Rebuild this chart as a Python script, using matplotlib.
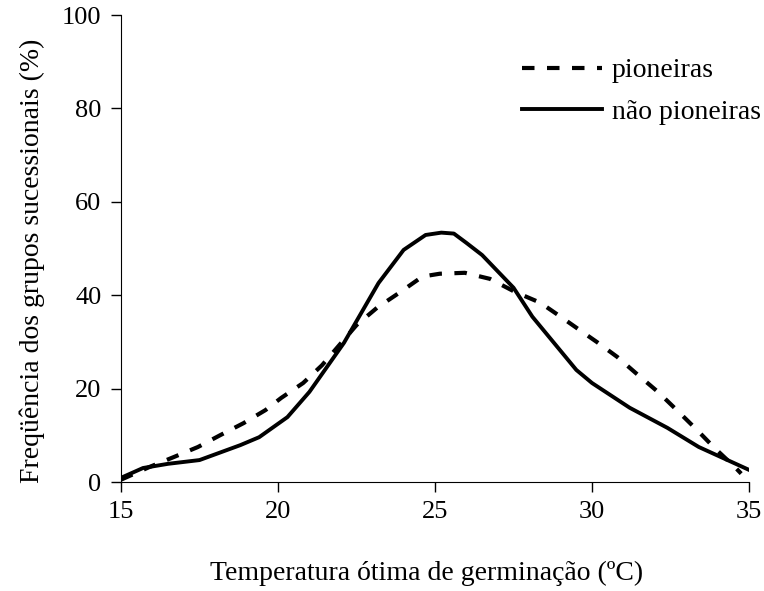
import matplotlib
matplotlib.use("Agg")
import matplotlib.pyplot as plt

plt.rcParams['font.family'] = ['Liberation Serif', 'DejaVu Serif']

# curvas
temp_pion = [15.0, 15.9, 16.7, 17.45, 18.15, 18.9, 19.6, 20.1, 20.8, 21.4, 22.5, 23.15,
             23.9, 24.6, 25.15, 25.95, 26.75, 27.55, 28.35, 29.0, 29.7, 30.15, 30.8,
             31.4, 32.1, 32.7, 33.35, 33.9, 34.55, 34.75]
freq_pion = [0.5, 3.2, 5.4, 7.5, 10.0, 12.6, 15.4, 18.0, 21.2, 25.0, 33.6, 37.3,
             40.7, 44.0, 44.6, 44.8, 43.5, 40.7, 38.4, 35.4, 32.1, 30.0, 26.8,
             23.3, 19.3, 15.4, 11.1, 7.3, 3.2, 1.8]

temp_nao = [15.0, 15.7, 16.5, 17.5, 18.8, 19.4, 20.3, 21.0, 22.1, 23.2, 24.0, 24.7,
            25.2, 25.6, 26.0, 26.5, 27.5, 28.1, 29.5, 30.0, 31.2, 32.4, 33.4, 35.0]
freq_nao = [0.9, 3.0, 3.9, 4.7, 7.9, 9.6, 13.9, 19.3, 29.8, 42.6, 49.7, 52.9,
            53.4, 53.2, 51.2, 48.6, 41.6, 35.4, 24.0, 21.2, 15.9, 11.6, 7.5, 2.6]

xticks = [15, 20, 25, 30, 35]
yticks = [0, 20, 40, 60, 80, 100]

fig = plt.figure(figsize=(7.64, 5.91), dpi=100)
ax = fig.add_axes([0.1584, 0.1844, 0.8220, 0.7902])

ax.plot(temp_pion, freq_pion, color='black', lw=3, linestyle=(0, (3, 3)),
        label='pioneiras')
ax.plot(temp_nao, freq_nao, color='black', lw=2.8, label='não pioneiras')

ax.set_xlim(15, 35)
ax.set_ylim(0, 100)
ax.set_xticks(xticks)
ax.set_yticks(yticks)
ax.spines['top'].set_visible(False)
ax.spines['right'].set_visible(False)
ax.tick_params(direction='out', length=7, width=1, labelsize=19, pad=7)

ax.set_xlabel('Temperatura ótima de germinação (ºC)', fontsize=20, labelpad=27)
ax.set_ylabel('Freqüência dos grupos sucessionais (%)', fontsize=20, labelpad=12)
ax.xaxis.label.set_x(0.486)
ax.yaxis.label.set_y(0.473)

ax.legend(loc='upper left', bbox_to_anchor=(0.683, 0.902),
          bbox_transform=fig.transFigure, frameon=False, fontsize=20,
          handlelength=2.9, handletextpad=0.35, labelspacing=0.58,
          borderpad=0, borderaxespad=0)

fig.savefig('out.png', dpi=100)
